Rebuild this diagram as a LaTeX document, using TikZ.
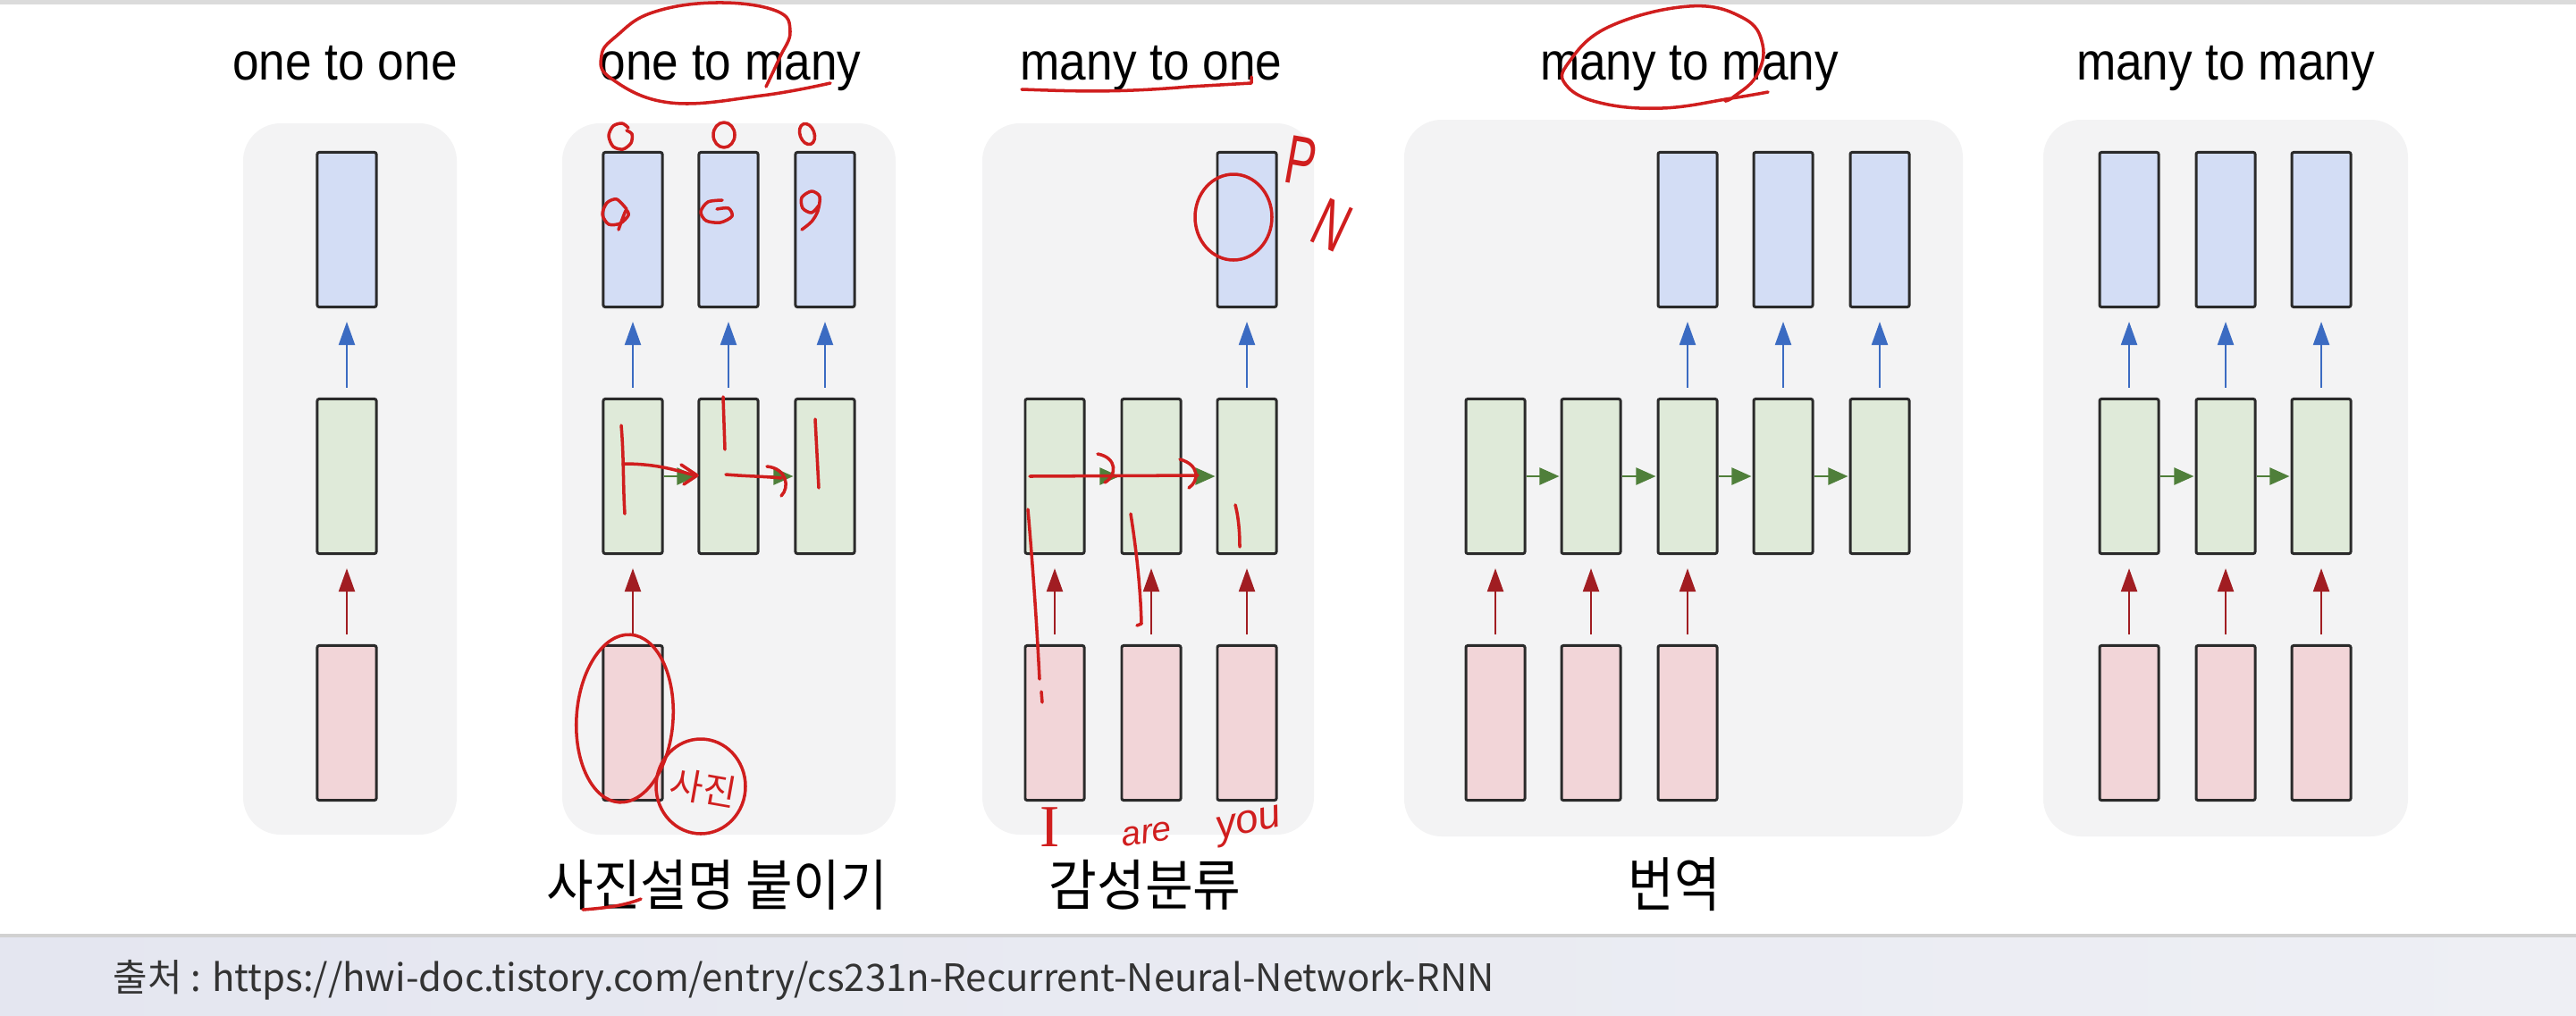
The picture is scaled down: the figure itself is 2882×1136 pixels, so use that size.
\documentclass[tikz,border=0pt]{standalone}
\usepackage{graphicx}
\usepackage{fontspec}
\setmainfont{Liberation Sans}
\newfontfamily\kr{Noto Sans CJK KR}
\newfontfamily\hand{Liberation Serif}
\usetikzlibrary{arrows.meta}
\definecolor{outfill}{HTML}{D3DDF5}
\definecolor{hidfill}{HTML}{DFEAD9}
\definecolor{infill}{HTML}{F2D5D8}
\definecolor{boxline}{HTML}{2A2A2A}
\definecolor{panelbg}{HTML}{F3F3F4}
\definecolor{arrB}{HTML}{3B6BC2}
\definecolor{arrR}{HTML}{A11D22}
\definecolor{arrG}{HTML}{4F7F3A}
\definecolor{annred}{HTML}{D01E1E}
\definecolor{footA}{HTML}{E4E6F0}
\definecolor{footB}{HTML}{EEEFF4}
\definecolor{foottext}{HTML}{333333}
\tikzset{
  cell/.style={draw=boxline, line width=0.85pt, minimum width=0.66cm, minimum height=1.73cm, inner sep=0pt, rounded corners=0.6pt},
  outb/.style={cell, fill=outfill},
  hidb/.style={cell, fill=hidfill},
  inb/.style={cell, fill=infill},
  upB/.style={draw=arrB, line width=0.6pt, -{Triangle[length=0.26cm,width=0.18cm]}, shorten <=0.11cm, shorten >=0.15cm},
  upR/.style={draw=arrR, line width=0.6pt, -{Triangle[length=0.26cm,width=0.18cm]}, shorten <=0.11cm, shorten >=0.15cm},
  rtG/.style={draw=arrG, line width=0.7pt, -{Triangle[length=0.22cm,width=0.19cm]}, shorten >=0.3pt},
  panel/.style={fill=panelbg, rounded corners=0.42cm},
  title/.style={anchor=base, inner sep=0pt, font=\fontsize{16.8pt}{20pt}\selectfont},
  klabel/.style={anchor=center, inner sep=0pt},
  annot/.style={draw=annred, line width=1pt, line cap=round, line join=round},
  annotxt/.style={text=annred, inner sep=0pt}
}
\begin{document}
\begin{tikzpicture}[x=0.01cm,y=-0.01cm]
\useasboundingbox (0,0) rectangle (2882,1136);
\fill[white] (0,0) rectangle (2882,1136);
\fill[black!14] (0,0) rectangle (2882,5);
% footer
\shade[left color=footA, right color=footB] (0,1048) rectangle (2882,1136);
\fill[black!18] (0,1045) rectangle (2882,1049);
\node[anchor=west, inner sep=0pt, text=foottext] (src) at (126,1097) {\resizebox*{15.44cm}{0.45cm}{\kr 출처 : https://hwi-doc.tistory.com/entry/cs231n-Recurrent-Neural-Network-RNN}};

% panels
\fill[panel] (272,138) rectangle (511,934);
\fill[panel] (629,138) rectangle (1002,934);
\fill[panel] (1099,138) rectangle (1470,934);
\fill[panel] (1571,134) rectangle (2196,936);
\fill[panel] (2286,134) rectangle (2694,936);

% titles
\node[title] (t1) at (386,89) {\scalebox{0.9}[1]{one to one}};
\node[title] (t2) at (817,89) {\scalebox{0.9}[1]{one to many}};
\node[title] (t3) at (1288,89) {\scalebox{0.9}[1]{many to one}};
\node[title] (t4) at (1890,89) {\scalebox{0.9}[1]{many to many}};
\node[title] (t5) at (2490,89) {\scalebox{0.9}[1]{many to many}};

% labels
\node[klabel] (l2) at (802,990) {\resizebox*{3.81cm}{0.56cm}{\kr 사진설명 붙이기}};
\node[klabel] (l3) at (1281,990) {\resizebox*{2.15cm}{0.56cm}{\kr 감성분류}};
\node[klabel] (l4) at (1873,990) {\resizebox*{1.03cm}{0.6cm}{\kr 번역}};

% ---------- panel 1: one to one
\node[outb] (a1o) at (388,257) {};
\node[hidb] (a1h) at (388,533) {};
\node[inb]  (a1i) at (388,809) {};
\draw[upB] (a1h.north) -- (a1o.south);
\draw[upR] (a1i.north) -- (a1h.south);

% ---------- panel 2: one to many
\node[outb] (b2o1) at (708,257) {};
\node[outb] (b2o2) at (815,257) {};
\node[outb] (b2o3) at (923,257) {};
\node[hidb] (b2h1) at (708,533) {};
\node[hidb] (b2h2) at (815,533) {};
\node[hidb] (b2h3) at (923,533) {};
\node[inb]  (b2i1) at (708,809) {};
\draw[upB] (b2h1.north) -- (b2o1.south);
\draw[upB] (b2h2.north) -- (b2o2.south);
\draw[upB] (b2h3.north) -- (b2o3.south);
\draw[rtG] (b2h1.east) -- (b2h2.west);
\draw[rtG] (b2h2.east) -- (b2h3.west);
\draw[upR] (b2i1.north) -- (b2h1.south);

% ---------- panel 3: many to one
\node[outb] (c3o3) at (1395,257) {};
\node[hidb] (c3h1) at (1180,533) {};
\node[hidb] (c3h2) at (1288,533) {};
\node[hidb] (c3h3) at (1395,533) {};
\node[inb]  (c3i1) at (1180,809) {};
\node[inb]  (c3i2) at (1288,809) {};
\node[inb]  (c3i3) at (1395,809) {};
\draw[upB] (c3h3.north) -- (c3o3.south);
\draw[rtG] (c3h1.east) -- (c3h2.west);
\draw[rtG] (c3h2.east) -- (c3h3.west);
\draw[upR] (c3i1.north) -- (c3h1.south);
\draw[upR] (c3i2.north) -- (c3h2.south);
\draw[upR] (c3i3.north) -- (c3h3.south);

% ---------- panel 4: many to many (seq2seq)
\node[outb] (d4o3) at (1888,257) {};
\node[outb] (d4o4) at (1995,257) {};
\node[outb] (d4o5) at (2103,257) {};
\node[hidb] (d4h1) at (1673,533) {};
\node[hidb] (d4h2) at (1780,533) {};
\node[hidb] (d4h3) at (1888,533) {};
\node[hidb] (d4h4) at (1995,533) {};
\node[hidb] (d4h5) at (2103,533) {};
\node[inb]  (d4i1) at (1673,809) {};
\node[inb]  (d4i2) at (1780,809) {};
\node[inb]  (d4i3) at (1888,809) {};
\draw[upB] (d4h3.north) -- (d4o3.south);
\draw[upB] (d4h4.north) -- (d4o4.south);
\draw[upB] (d4h5.north) -- (d4o5.south);
\draw[rtG] (d4h1.east) -- (d4h2.west);
\draw[rtG] (d4h2.east) -- (d4h3.west);
\draw[rtG] (d4h3.east) -- (d4h4.west);
\draw[rtG] (d4h4.east) -- (d4h5.west);
\draw[upR] (d4i1.north) -- (d4h1.south);
\draw[upR] (d4i2.north) -- (d4h2.south);
\draw[upR] (d4i3.north) -- (d4h3.south);

% ---------- panel 5: many to many (synced)
\node[outb] (e5o1) at (2382,257) {};
\node[outb] (e5o2) at (2490,257) {};
\node[outb] (e5o3) at (2597,257) {};
\node[hidb] (e5h1) at (2382,533) {};
\node[hidb] (e5h2) at (2490,533) {};
\node[hidb] (e5h3) at (2597,533) {};
\node[inb]  (e5i1) at (2382,809) {};
\node[inb]  (e5i2) at (2490,809) {};
\node[inb]  (e5i3) at (2597,809) {};
\draw[upB] (e5h1.north) -- (e5o1.south);
\draw[upB] (e5h2.north) -- (e5o2.south);
\draw[upB] (e5h3.north) -- (e5o3.south);
\draw[rtG] (e5h1.east) -- (e5h2.west);
\draw[rtG] (e5h2.east) -- (e5h3.west);
\draw[upR] (e5i1.north) -- (e5h1.south);
\draw[upR] (e5i2.north) -- (e5h2.south);
\draw[upR] (e5i3.north) -- (e5h3.south);

% ---------- red handwritten annotations
% loop round "one to many"
\draw[annot] plot[smooth, tension=0.7] coordinates {(857,97) (872,65) (884,35) (868,12) (801,3) (730,14) (690,40) (673,62) (684,88) (750,115) (852,107) (929,93)};
% marks above / in the outputs
\draw[annot] plot[smooth] coordinates {(703,143) (696,138) (686,141) (681,152) (686,164) (697,167) (706,160) (707,150) (701,146)};
\draw[annot] (810,151) ellipse [x radius=12, y radius=14];
\draw[annot, rotate around={20:(903,150)}] (903,150) ellipse [x radius=8, y radius=12];
\draw[annot] plot[smooth] coordinates {(701,234) (690,223) (679,227) (674,240) (681,251) (694,250) (703,241) (700,236) (692,257)};
\draw[annot] plot[smooth] coordinates {(808,224) (792,226) (784,237) (790,247) (806,249) (819,242) (815,233) (802,234)};
\draw[annot] plot[smooth] coordinates {(916,230) (908,238) (898,233) (897,221) (908,214) (917,220) (915,236) (908,248) (897,257)};
% recurrence strokes, one to many
\draw[annot] (695,476) .. controls (698,510) and (697,545) .. (699,575);
\draw[annot] (697,519) .. controls (730,519) and (750,524) .. (777,532);
\draw[annot] (762,520) -- (780,532) -- (765,542);
\draw[annot] (809,444) -- (811,503);
\draw[annot] (812,531) .. controls (835,533) and (855,533) .. (874,535);
\draw[annot] (858,522) .. controls (880,524) and (884,545) .. (874,555);
\draw[annot] (912,469) -- (916,546);
% input image circled, with 사진
\draw[annot, rotate around={-4:(699,804)}] (699,804) ellipse [x radius=54, y radius=94];
\draw[annot] (784,880) ellipse [x radius=50, y radius=53];
\node[annotxt, rotate=-10] (hw1) at (787,882) {\kr\fontsize{11.5pt}{12pt}\selectfont 사진};
\draw[annot] (652,1018) .. controls (680,1016) and (700,1013) .. (717,1006);
% many to one
\draw[annot] (1143,100) .. controls (1200,102) and (1250,104) .. (1330,97) -- (1400,93) -- (1400,86);
\draw[annot] (1380,243) ellipse [x radius=43, y radius=48];
\node[annotxt, rotate=-10] (hwP) at (1456,180) {\scalebox{0.65}[1]{\fontsize{22pt}{24pt}\selectfont P}};
\node[annotxt, rotate=-25] (hwN) at (1490,252) {\scalebox{0.65}[1]{\fontsize{22pt}{24pt}\selectfont N}};
\draw[annot] (1152,533) -- (1340,532);
\draw[annot] (1228,508) .. controls (1250,512) and (1250,532) .. (1236,540);
\draw[annot] (1320,514) .. controls (1342,520) and (1342,538) .. (1330,546);
\draw[annot] (1150,570) .. controls (1156,640) and (1160,700) .. (1163,760);
\draw[annot] (1165,774) -- (1166,786);
\draw[annot] (1265,575) .. controls (1272,620) and (1276,660) .. (1277,698) -- (1272,700);
\draw[annot] (1382,565) .. controls (1386,580) and (1387,598) .. (1387,612);
\node[annotxt] (hwI) at (1175,926) {\hand\fontsize{19pt}{20pt}\selectfont I};
\node[annotxt, rotate=8] (hwA) at (1283,933) {\itshape\fontsize{11pt}{12pt}\selectfont are};
\node[annotxt, rotate=12] (hwY) at (1398,924) {\itshape\fontsize{13pt}{14pt}\selectfont you};
% loop round "many to many"
\draw[annot] plot[smooth, tension=0.7] coordinates {(1978,103) (1937,110) (1860,121) (1790,115) (1752,95) (1755,70) (1800,30) (1890,7) (1950,20) (1972,50) (1965,85) (1940,108) (1930,113)};
\end{tikzpicture}
\end{document}
